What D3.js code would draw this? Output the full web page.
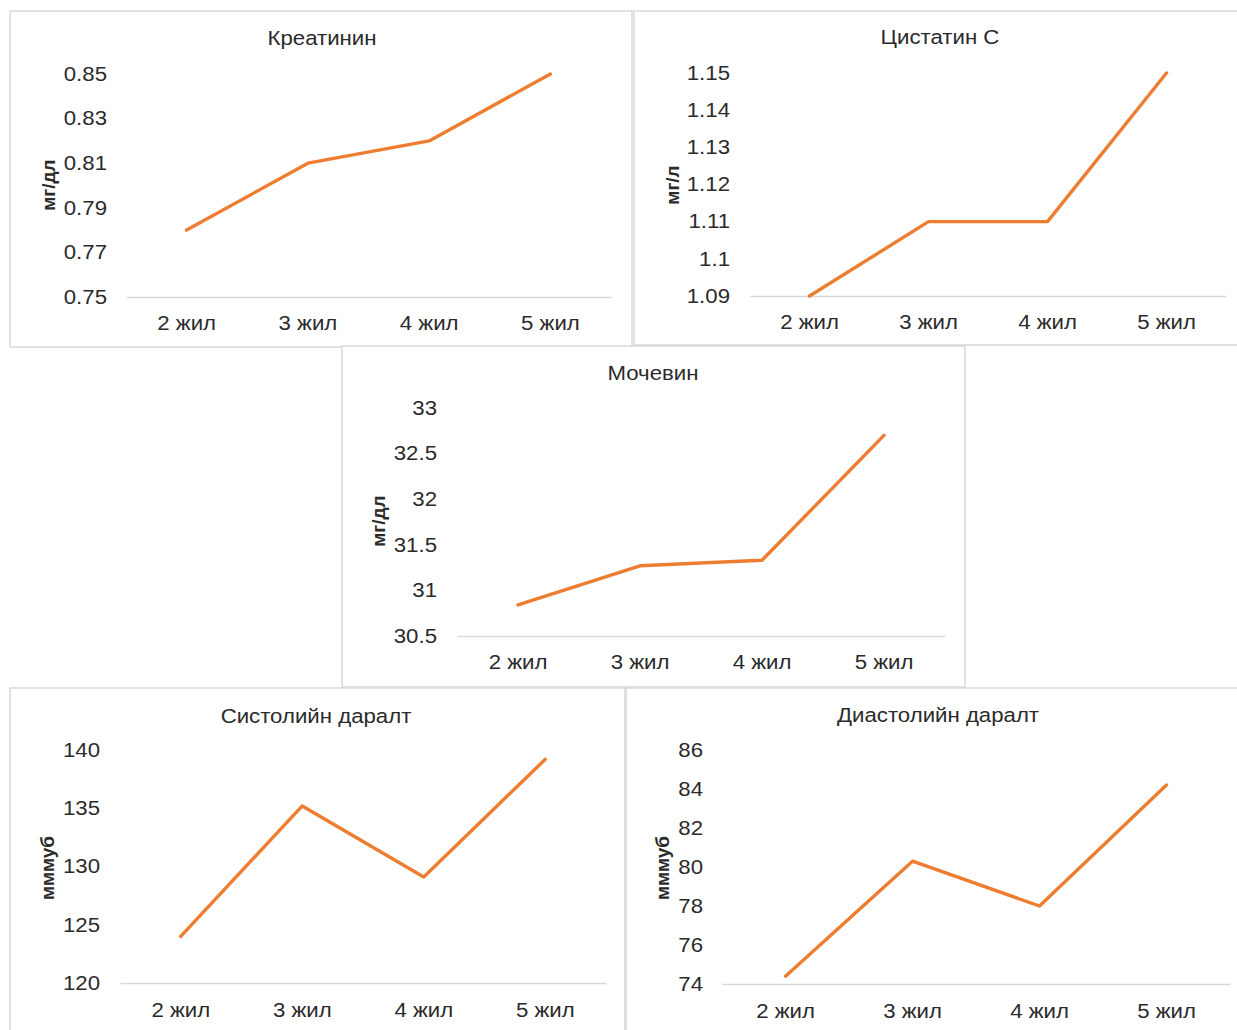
<!DOCTYPE html>
<html>
<head>
<meta charset="utf-8">
<script src="https://cdn.jsdelivr.net/npm/d3@7"></script>
<style>
  html, body { margin: 0; padding: 0; background: #fff; }
  svg { display: block; }
  text { font-family: "Liberation Sans", Arial, sans-serif; fill: #2b2b2b; }
</style>
</head>
<body>
<svg id="chart" width="1237" height="1030"></svg>
<script>
// Categories shared by every panel
const years = ["2 жил", "3 жил", "4 жил", "5 жил"];

// Series values
const creatinine = [0.78, 0.81, 0.82, 0.85];
const cystatinC  = [1.09, 1.11, 1.11, 1.15];
const urea       = [30.84, 31.27, 31.33, 32.7];
const systolic   = [124, 135.2, 129.1, 139.2];
const diastolic  = [74.4, 80.3, 78.0, 84.2];

// Tick labels of each value axis
const creatinineTicks = [0.75, 0.77, 0.79, 0.81, 0.83, 0.85];
const cystatinTicks   = [1.09, 1.1, 1.11, 1.12, 1.13, 1.14, 1.15];
const ureaTicks       = [30.5, 31, 31.5, 32, 32.5, 33];
const systolicTicks   = [120, 125, 130, 135, 140];
const diastolicTicks  = [74, 76, 78, 80, 82, 84, 86];

// Titles and units
const titles = ["Креатинин", "Цистатин С", "Мочевин", "Систолийн даралт", "Диастолийн даралт"];
const units  = ["мг/дл", "мг/л", "мг/дл", "мммуб", "мммуб"];

const svg = d3.select("#chart");
const FONT = "'Liberation Sans', Arial, sans-serif";
const WIDEN = "scale(1.14,1)";   // slightly wide lettering

// Panel geometry: frame, plot area, label anchors
const panels = [
  { values: creatinine, ticks: creatinineTicks, title: titles[0], unit: units[0],
    box: [10, 11, 622, 336], px: [126, 611], py: [297, 74],
    titleXY: [322, 38], tickRight: 107, unitXY: [48, 185], labelY: 323 },
  { values: cystatinC, ticks: cystatinTicks, title: titles[1], unit: units[1],
    box: [634, 11, 620, 334], px: [750, 1226], py: [296, 73],
    titleXY: [940, 37], tickRight: 730, unitXY: [672, 185], labelY: 322 },
  { values: urea, ticks: ureaTicks, title: titles[2], unit: units[2],
    box: [342, 346, 623, 341], px: [457, 945], py: [636, 408],
    titleXY: [653, 373], tickRight: 437, unitXY: [378, 521], labelY: 662 },
  { values: systolic, ticks: systolicTicks, title: titles[3], unit: units[3],
    box: [10, 688, 615, 360], px: [120, 606], py: [983, 750],
    titleXY: [316, 716], tickRight: 100, unitXY: [47, 868], labelY: 1010 },
  { values: diastolic, ticks: diastolicTicks, title: titles[4], unit: units[4],
    box: [626, 688, 620, 360], px: [722, 1230], py: [984, 750],
    titleXY: [938, 715], tickRight: 703, unitXY: [662, 868], labelY: 1011 }
];

panels.forEach(p => {
  const g = svg.append("g");

  // frame
  g.append("rect")
    .attr("x", p.box[0]).attr("y", p.box[1])
    .attr("width", p.box[2]).attr("height", p.box[3])
    .attr("fill", "#fff").attr("stroke", "#d9d9d9").attr("stroke-width", 1.5);

  const x = d3.scaleBand().domain(years).range(p.px);
  const y = d3.scaleLinear()
    .domain([p.ticks[0], p.ticks[p.ticks.length - 1]])
    .range(p.py);

  // category axis (baseline + labels)
  const xAxis = d3.axisBottom(x).tickSize(0).tickPadding(0);
  const xg = g.append("g").attr("transform", `translate(0,${p.py[0]})`).call(xAxis);
  xg.select(".domain").attr("stroke", "#d9d9d9").attr("stroke-width", 1.5);
  xg.selectAll("text")
    .attr("y", p.labelY - p.py[0]).attr("dy", "0.35em")
    .attr("transform", WIDEN)
    .style("font-size", "19.5px").style("fill", "#2b2b2b")
    .style("font-family", FONT);

  // value axis (labels only)
  const yAxis = d3.axisLeft(y).tickValues(p.ticks).tickSize(0).tickPadding(0)
    .tickFormat(d => String(d));
  const yg = g.append("g").attr("transform", `translate(${p.tickRight},0)`).call(yAxis);
  yg.select(".domain").remove();
  yg.selectAll("text")
    .attr("x", 0)
    .attr("transform", WIDEN)
    .style("font-size", "19.5px").style("fill", "#2b2b2b")
    .style("font-family", FONT);

  // series line
  const line = d3.line()
    .x((d, i) => x(years[i]) + x.bandwidth() / 2)
    .y(d => y(d));
  g.append("path")
    .datum(p.values)
    .attr("d", line)
    .attr("fill", "none")
    .attr("stroke", "#ED7D31")
    .attr("stroke-width", 3.4)
    .attr("stroke-linejoin", "round")
    .attr("stroke-linecap", "round");

  // chart title
  g.append("text")
    .attr("transform", `translate(${p.titleXY[0]},${p.titleXY[1]}) ${WIDEN}`)
    .attr("dy", "0.35em").attr("text-anchor", "middle")
    .style("font-size", "19.5px")
    .text(p.title);

  // unit label
  g.append("text")
    .attr("transform", `translate(${p.unitXY[0]},${p.unitXY[1]}) rotate(-90)`)
    .attr("dy", "0.35em").attr("text-anchor", "middle")
    .style("font-size", "19px").style("font-weight", "bold")
    .text(p.unit);
});
</script>
</body>
</html>
